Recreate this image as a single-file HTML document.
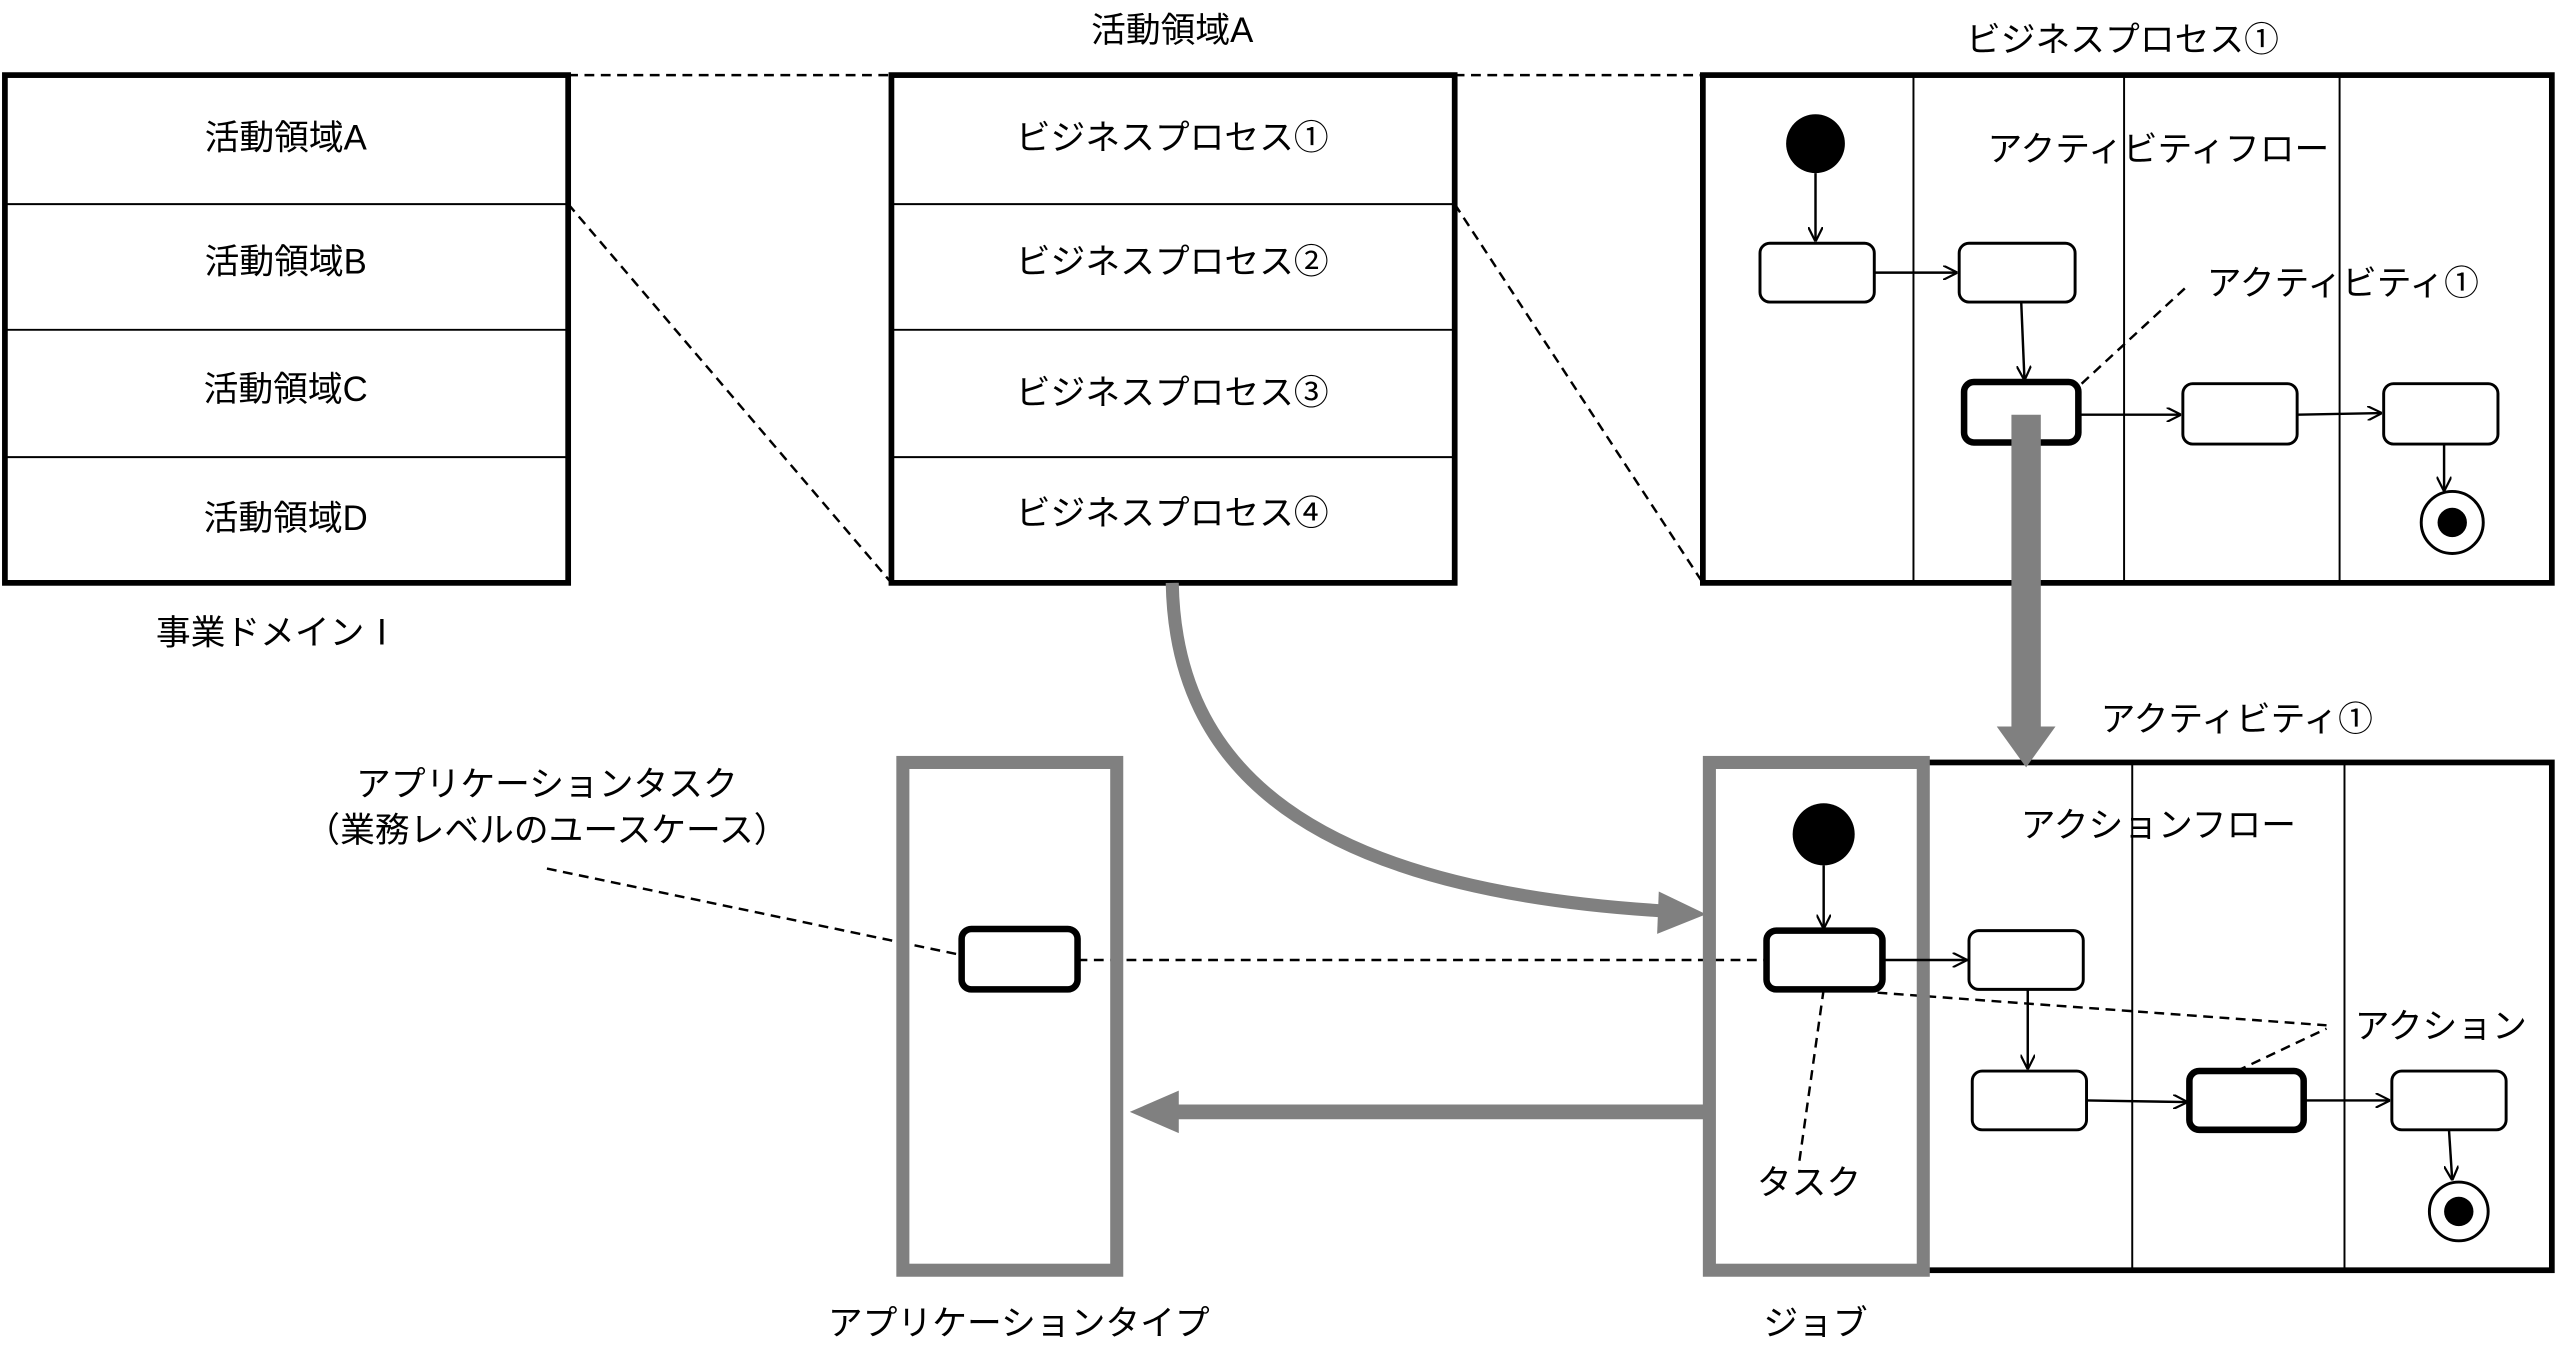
<!DOCTYPE html>
<html><head><meta charset="utf-8"><style>
html,body{margin:0;padding:0;background:#fff;}
svg{display:block;}
text{font-family:"Liberation Sans","Noto Sans CJK JP",sans-serif;font-size:21.3px;fill:#000;text-anchor:middle;dominant-baseline:middle;}
</style></head><body>
<svg width="2560" height="1369" viewBox="0 0 1568 838.5" preserveAspectRatio="none" xmlns="http://www.w3.org/2000/svg">
<defs>
<marker id="a" viewBox="0 0 10 10" refX="10" refY="5" markerWidth="9" markerHeight="9" markerUnits="userSpaceOnUse" orient="auto"><path d="M0,0 L10,5 L0,10" fill="none" stroke="#000" stroke-width="1.5"/></marker>
</defs>
<g fill="none" stroke="#000">
<rect x="3" y="46" width="345" height="311" stroke-width="3.5"/>
<line x1="3" y1="125" x2="348" y2="125" stroke-width="1.2"/>
<line x1="3" y1="202" x2="348" y2="202" stroke-width="1.2"/>
<line x1="3" y1="280" x2="348" y2="280" stroke-width="1.2"/>
<rect x="546" y="46" width="345" height="311" stroke-width="3.5"/>
<line x1="546" y1="125" x2="891" y2="125" stroke-width="1.2"/>
<line x1="546" y1="202" x2="891" y2="202" stroke-width="1.2"/>
<line x1="546" y1="280" x2="891" y2="280" stroke-width="1.2"/>
<g stroke-dasharray="6,4" stroke-width="1.5">
<line x1="348" y1="46" x2="546" y2="46"/>
<line x1="348" y1="125" x2="546" y2="357"/>
<line x1="891" y1="46" x2="1043" y2="46"/>
<line x1="891" y1="125" x2="1043" y2="357"/>
<line x1="1275" y1="235" x2="1340" y2="175"/>
<line x1="660" y1="588" x2="1082" y2="588"/>
<line x1="335" y1="532" x2="589" y2="585"/>
<line x1="1117" y1="606" x2="1102" y2="712"/>
<line x1="1150" y1="608" x2="1425" y2="628"/>
<line x1="1370" y1="656" x2="1425" y2="630"/>
</g>
<rect x="1043" y="46" width="520" height="311" stroke-width="3.5"/>
<line x1="1172" y1="46" x2="1172" y2="357" stroke-width="1.2"/>
<line x1="1301" y1="46" x2="1301" y2="357" stroke-width="1.2"/>
<line x1="1433" y1="46" x2="1433" y2="357" stroke-width="1.2"/>
<rect x="1078" y="149" width="70" height="36" rx="6" stroke-width="1.8"/>
<rect x="1200" y="149" width="71" height="36" rx="6" stroke-width="1.8"/>
<rect x="1203" y="234" width="70" height="37" rx="6" stroke-width="4"/>
<rect x="1337" y="235" width="70" height="37" rx="6" stroke-width="1.8"/>
<rect x="1460" y="235" width="70" height="37" rx="6" stroke-width="1.8"/>
<g stroke-width="1.5" marker-end="url(#a)">
<line x1="1112" y1="106" x2="1112" y2="148"/>
<line x1="1148" y1="167" x2="1199" y2="167"/>
<line x1="1238" y1="185" x2="1240" y2="233"/>
<line x1="1273" y1="254" x2="1336" y2="254"/>
<line x1="1407" y1="254" x2="1459" y2="253"/>
<line x1="1497" y1="272" x2="1497" y2="301"/>
</g>
<circle cx="1502" cy="320" r="19" stroke-width="1.8"/>
<rect x="1178" y="467" width="385" height="311" stroke-width="3.5"/>
<line x1="1306" y1="467" x2="1306" y2="778" stroke-width="1.2"/>
<line x1="1436" y1="467" x2="1436" y2="778" stroke-width="1.2"/>
<rect x="1047" y="467" width="131" height="311" stroke="#808080" stroke-width="8"/>
<rect x="553" y="467" width="131" height="311" stroke="#808080" stroke-width="8"/>
<rect x="589" y="569" width="71" height="37" rx="6" stroke-width="4"/>
<rect x="1082" y="570" width="71" height="36" rx="6" stroke-width="4"/>
<rect x="1206" y="570" width="70" height="36" rx="6" stroke-width="1.8"/>
<rect x="1208" y="656" width="70" height="36" rx="6" stroke-width="1.8"/>
<rect x="1341" y="656" width="70" height="36" rx="6" stroke-width="4"/>
<rect x="1465" y="656" width="70" height="36" rx="6" stroke-width="1.8"/>
<g stroke-width="1.5" marker-end="url(#a)">
<line x1="1117" y1="530" x2="1117" y2="569"/>
<line x1="1153" y1="588" x2="1205" y2="588"/>
<line x1="1242" y1="606" x2="1242" y2="655"/>
<line x1="1278" y1="674" x2="1340" y2="675"/>
<line x1="1411" y1="674" x2="1464" y2="674"/>
<line x1="1500" y1="692" x2="1502" y2="723"/>
</g>
<circle cx="1506" cy="742" r="18" stroke-width="1.8"/>
<path d="M718,357 C720,470 800,545 1020,558" stroke="#808080" stroke-width="8"/>
<line x1="1047" y1="681" x2="720" y2="681" stroke="#808080" stroke-width="9"/>
<line x1="1241" y1="254" x2="1241" y2="445" stroke="#808080" stroke-width="18"/>
</g>
<circle cx="1112" cy="88" r="18" fill="#000"/>
<circle cx="1502" cy="320" r="9" fill="#000"/>
<circle cx="1117" cy="511" r="19" fill="#000"/>
<circle cx="1506" cy="742" r="9" fill="#000"/>
<polygon points="1223,445 1259,445 1241,470" fill="#808080"/>
<polygon points="692,681 722,668 722,694" fill="#808080"/>
<polygon points="1045,560 1016,546 1015,572" fill="#808080"/>
<g transform="translate(0,2)">
<text x="175" y="84">活動領域A</text>
<text x="175" y="160">活動領域B</text>
<text x="175" y="238">活動領域C</text>
<text x="175" y="317">活動領域D</text>
<text x="170" y="387">事業ドメインⅠ</text>
<text x="718" y="18">活動領域A</text>
<text x="718" y="84">ビジネスプロセス①</text>
<text x="718" y="160">ビジネスプロセス②</text>
<text x="718" y="240">ビジネスプロセス③</text>
<text x="718" y="314">ビジネスプロセス④</text>
<text x="1300" y="24">ビジネスプロセス①</text>
<text x="1322" y="91">アクティビティフロー</text>
<text x="1435" y="173">アクティビティ①</text>
<text x="1370" y="440">アクティビティ①</text>
<text x="1322" y="505">アクションフロー</text>
<text x="1495" y="628">アクション</text>
<text x="1108" y="724">タスク</text>
<text x="335" y="480">アプリケーションタスク</text>
<text x="335" y="508">（業務レベルのユースケース）</text>
<text x="624" y="810">アプリケーションタイプ</text>
<text x="1112" y="810">ジョブ</text>
</g>
</svg>
</body></html>
